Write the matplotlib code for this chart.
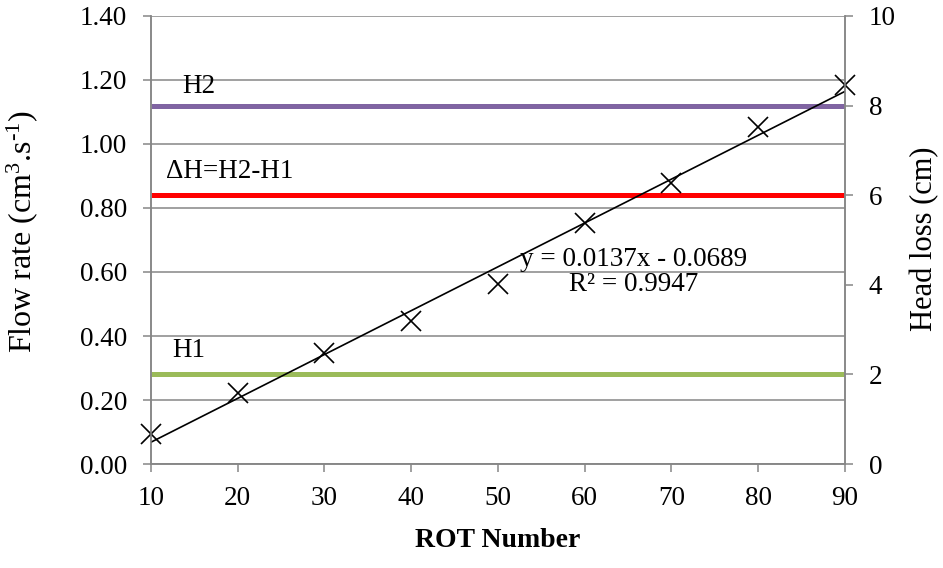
import numpy as np
import matplotlib
matplotlib.use('Agg')
import matplotlib.pyplot as plt
from matplotlib.ticker import FormatStrFormatter, MultipleLocator

plt.rcParams['font.family'] = ['Liberation Serif', 'DejaVu Serif']
plt.rcParams['mathtext.fontset'] = 'custom'
plt.rcParams['mathtext.rm'] = 'Liberation Serif'
plt.rcParams['mathtext.it'] = 'Liberation Serif:italic'

# Datos
rot = [10, 20, 30, 40, 50, 60, 70, 80, 90]
flow = [0.094, 0.222, 0.347, 0.447, 0.563, 0.753, 0.878, 1.053, 1.184]
slope, intercept = 0.0137, -0.0689
r2 = 0.9947
head_names = ['H1', 'ΔH=H2-H1', 'H2']
head_values = [2, 6, 8]
head_colors = ['#9BBB59', '#FF0000', '#8064A2']

grey = '#868686'

fig, ax1 = plt.subplots(figsize=(9.43, 5.68), dpi=100)
fig.subplots_adjust(left=0.160, right=0.896, top=0.972, bottom=0.183)
ax2 = ax1.twinx()

# lineas de altura en el eje derecho
for name, val, col in zip(head_names, head_values, head_colors):
    ax2.plot([rot[0], rot[-1]], [val, val], color=col, lw=3.6, solid_capstyle='butt')

ax1.set_zorder(ax2.get_zorder() + 1)
ax1.patch.set_visible(False)

# puntos y linea de tendencia
x_fit = np.array([rot[0], rot[-1]])
ax1.plot(x_fit, slope * x_fit + intercept, color='black', lw=1.2)
ax1.plot(rot, flow, linestyle='none', marker='x', markersize=15, markeredgewidth=1.2,
         color='black', clip_on=False)

ax1.set_xlim(10, 90)
ax1.set_ylim(0, 1.4)
ax2.set_ylim(0, 10)
ax1.xaxis.set_major_locator(MultipleLocator(10))
ax1.yaxis.set_major_locator(MultipleLocator(0.2))
ax1.yaxis.set_major_formatter(FormatStrFormatter('%.2f'))
ax2.yaxis.set_major_locator(MultipleLocator(2))

ax1.grid(axis='y', color=grey, lw=1.1)
ax1.set_axisbelow(True)

for ax in (ax1, ax2):
    ax.spines['top'].set_visible(False)
    for s in ('left', 'right', 'bottom'):
        ax.spines[s].set_color(grey)
        ax.spines[s].set_linewidth(1.1)
    ax.tick_params(colors=grey, labelcolor='black', labelsize=19.5, length=6, width=1.1)

ax1.tick_params(axis='y', pad=11)
ax1.tick_params(axis='x', pad=10)
ax2.tick_params(axis='y', pad=11)

# textos
fs = 19.5
ax1.text(13.6, 1.178, 'H2', fontsize=fs, va='center', ha='left')
ax1.text(11.7, 0.913, 'ΔH=H2-H1', fontsize=fs, va='center', ha='left')
ax1.text(12.5, 0.356, 'H1', fontsize=fs, va='center', ha='left')
ax1.text(65.6, 0.60, f'y = {slope}x - {abs(intercept)}\nR² = {r2}', fontsize=fs,
         ha='center', va='center', multialignment='center', linespacing=1.05)

ax1.text(-0.186, 0.518, 'Flow rate (cm$^{3}$.s$^{\u20101}$)', transform=ax1.transAxes,
         rotation=90, ha='center', va='center', fontsize=23)
ax1.text(1.115, 0.502, 'Head loss (cm)', transform=ax1.transAxes,
         rotation=90, ha='center', va='center', fontsize=22)
ax1.set_xlabel('ROT Number', fontsize=20, fontweight='bold', labelpad=12)

plt.savefig('out.png', dpi=100)
